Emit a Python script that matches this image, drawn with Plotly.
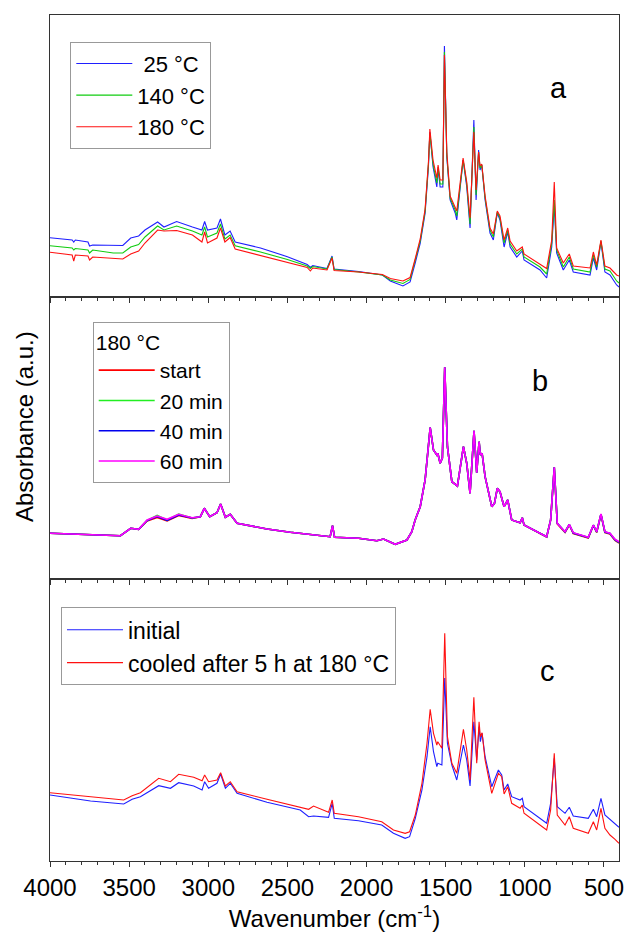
import plotly.graph_objects as go

# ---------------- Panel a : temperature series ----------------
wn_a = [4000, 3900, 3860, 3850, 3840, 3760, 3750, 3730, 3650, 3600,
        3540, 3490, 3440, 3400, 3320, 3280, 3200, 3100, 3040, 3023,
        3005, 2945, 2923, 2895, 2862, 2830, 2670, 2500, 2375, 2355,
        2340, 2250, 2218, 2205, 2050, 1900, 1850, 1770, 1725, 1693,
        1661, 1630, 1609, 1600, 1580, 1556, 1548, 1535, 1518, 1508,
        1493, 1472, 1440, 1430, 1390, 1367, 1346, 1322, 1308, 1292,
        1283, 1272, 1251, 1220, 1199, 1174, 1157, 1131, 1108, 1093,
        1051, 1016, 1005, 904, 862, 830, 814, 799, 757, 719,
        694, 588, 567, 546, 519, 494, 462, 420, 405]
a_25 = [.593, .58, .57, .55, .57, .55, .51, .52, .52, .515,
        .515, .59, .61, .67, .75, .70, .755, .70, .67, .755,
        .67, .69, .78, .62, .66, .55, .49, .403, .325, .295,
        .315, .285, .41, .28, .255, .22, .16, .11, .15, .337,
        .537, .837, 1.303, 1.65, 1.303, 1.10, 1.28, 1.10, 1.10, 2.51,
        1.40, .97, .84, .77, 1.37, 1.103, .69, 1.77, .97, 1.47,
        1.27, 1.32, .97, .64, .57, .84, .77, .50, .65, .50,
        .40, .46, .37, .27, .19, .50, .92, .44, .27, .37,
        .25, .22, .39, .27, .55, .25, .22, .12, .10]
a_140 = [.513, .495, .49, .47, .485, .47, .44, .47, .45, .44,
         .44, .50, .525, .60, .71, .67, .71, .66, .62, .70,
         .60, .64, .73, .58, .62, .513, .45, .375, .31, .285,
         .305, .28, .40, .275, .25, .22, .17, .135, .175, .36,
         .56, .86, 1.33, 1.64, 1.33, 1.14, 1.30, 1.13, 1.13, 2.45,
         1.42, .99, .87, .81, 1.37, 1.13, .73, 1.70, 1.02, 1.45,
         1.29, 1.32, .99, .67, .60, .85, .79, .54, .67, .53,
         .43, .48, .40, .30, .23, .54, .97, .47, .30, .40,
         .28, .25, .42, .30, .56, .28, .26, .16, .14]
a_180 = [.447, .43, .42, .36, .42, .41, .37, .40, .39, .38,
         .38, .43, .46, .54, .67, .66, .665, .62, .55, .65,
         .54, .59, .69, .55, .595, .48, .415, .345, .295, .26,
         .29, .27, .39, .265, .25, .225, .185, .16, .195, .38,
         .58, .88, 1.35, 1.68, 1.37, 1.19, 1.32, 1.17, 1.17, 2.42,
         1.45, 1.01, .89, .86, 1.39, 1.15, .79, 1.65, 1.07, 1.45,
         1.31, 1.33, 1.01, .69, .63, .86, .81, .57, .69, .56,
         .46, .50, .43, .33, .285, .57, 1.15, .49, .34, .43,
         .31, .29, .45, .32, .57, .31, .29, .22, .21]

# ---------------- Panel b : time at 180 °C ----------------
wn_b = [4000, 3555, 3490, 3440, 3386, 3323, 3260, 3187, 3102, 3050,
        3025, 2991, 2945, 2922, 2892, 2861, 2818, 2629, 2482, 2419,
        2337, 2230, 2215, 2202, 2051, 1935, 1893, 1819, 1745, 1714,
        1693, 1661, 1630, 1609, 1598, 1577, 1556, 1550, 1535, 1521,
        1506, 1489, 1461, 1426, 1388, 1367, 1346, 1321, 1304, 1289,
        1281, 1270, 1251, 1209, 1192, 1174, 1157, 1131, 1108, 1083,
        1030, 1016, 1005, 862, 837, 814, 795, 746, 719, 694,
        599, 567, 546, 519, 494, 462, 430, 405]
b_start = [.457, .433, .507, .497, .58, .615, .58, .635, .605, .623,
           .707, .623, .663, .75, .617, .647, .557, .50, .467, .455,
           .445, .423, .533, .417, .407, .383, .40, .347, .39, .473,
           .59, .723, .99, 1.323, 1.513, 1.29, 1.24, 1.257, 1.157, 1.21,
           2.117, 1.323, .973, .93, 1.323, 1.157, .857, 1.483, 1.063, 1.373,
           1.24, 1.257, 1.023, .723, .757, .907, .873, .723, .79, .59,
           .563, .613, .54, .42, .59, 1.117, .55, .465, .54, .455,
           .41, .535, .465, .645, .465, .45, .385, .36]
b_20 = [.457, .433, .507, .497, .585, .635, .59, .65, .61, .623,
        .707, .623, .663, .75, .617, .647, .557, .50, .467, .455,
        .445, .423, .533, .417, .407, .383, .40, .347, .39, .473,
        .59, .723, .99, 1.323, 1.513, 1.29, 1.24, 1.257, 1.157, 1.21,
        2.117, 1.323, .973, .93, 1.323, 1.157, .857, 1.483, 1.063, 1.373,
        1.24, 1.257, 1.023, .723, .757, .907, .873, .723, .79, .59,
        .563, .613, .54, .423, .59, 1.117, .557, .47, .545, .46,
        .415, .538, .47, .648, .47, .455, .39, .365]
b_40 = [.457, .433, .507, .497, .585, .625, .585, .64, .61, .623,
        .707, .623, .663, .75, .617, .647, .557, .50, .467, .455,
        .445, .423, .533, .417, .407, .383, .40, .347, .39, .473,
        .59, .723, .99, 1.323, 1.513, 1.29, 1.24, 1.257, 1.157, 1.21,
        2.117, 1.323, .973, .93, 1.323, 1.157, .857, 1.483, 1.063, 1.373,
        1.24, 1.257, 1.023, .723, .757, .907, .873, .723, .79, .59,
        .563, .613, .54, .423, .59, 1.117, .557, .47, .545, .46,
        .415, .538, .47, .648, .47, .455, .39, .368]
b_60 = [.457, .433, .507, .497, .59, .63, .597, .647, .613, .623,
        .707, .623, .663, .75, .617, .647, .557, .50, .467, .455,
        .445, .423, .533, .417, .407, .383, .40, .347, .39, .473,
        .59, .723, .99, 1.323, 1.513, 1.29, 1.24, 1.257, 1.157, 1.21,
        2.117, 1.323, .973, .93, 1.323, 1.157, .857, 1.483, 1.063, 1.373,
        1.24, 1.257, 1.023, .723, .757, .907, .873, .723, .79, .59,
        .563, .613, .54, .423, .59, 1.117, .557, .473, .547, .463,
        .417, .54, .473, .65, .473, .457, .397, .373]

# ---------------- Panel c : before / after ----------------
wn_c = [4000, 3850, 3744, 3534, 3481, 3429, 3313, 3239, 3187, 3092,
        3039, 3023, 2998, 2945, 2922, 2892, 2861, 2818, 2629, 2419,
        2366, 2335, 2240, 2217, 2204, 2051, 1904, 1830, 1756, 1728,
        1692, 1650, 1618, 1598, 1577, 1556, 1550, 1524, 1506, 1489,
        1461, 1430, 1388, 1367, 1346, 1322, 1304, 1289, 1281, 1270,
        1251, 1209, 1167, 1146, 1131, 1108, 1083, 1030, 1016, 1005,
        862, 837, 814, 795, 746, 719, 694, 599, 567, 546,
        519, 494, 462, 430, 405]
c_initial = [.66, .627, .60, .57, .617, .643, .753, .727, .783, .75,
             .71, .793, .727, .777, .87, .727, .777, .677, .587, .51,
             .443, .45, .437, .577, .427, .403, .36, .277, .227, .243,
             .427, .71, 1.043, 1.343, 1.093, .943, .977, .96, 1.83, 1.177,
             .96, .81, 1.16, 1.01, .75, 1.393, 1.01, 1.343, 1.193, 1.277,
             1.043, .743, .91, .86, .71, .77, .643, .61, .627, .543,
             .377, .577, 1.027, .543, .477, .537, .45, .427, .517, .443,
             .627, .46, .417, .377, .337]
c_cooled = [.683, .66, .637, .61, .653, .683, .827, .793, .867, .837,
            .803, .86, .793, .81, .883, .75, .793, .693, .617, .543,
            .517, .55, .487, .61, .477, .443, .393, .31, .277, .293,
            .46, .777, 1.177, 1.517, 1.277, 1.16, 1.193, 1.127, 2.277, 1.243,
            .977, .877, 1.317, 1.11, .81, 1.637, .977, 1.393, 1.243, 1.283,
            1.01, .677, .877, .843, .67, .743, .577, .527, .56, .477,
            .31, .51, 1.077, .46, .36, .443, .327, .277, .393, .31,
            .527, .327, .26, .217, .177]

xticks = [4000, 3500, 3000, 2500, 2000, 1500, 1000, 500]
legend_a = ["\u00a025 °C", "140 °C", "180 °C"]
legend_b = ["start", "20 min", "40 min", "60 min"]
legend_c = ["initial", "cooled after 5 h at 180 °C"]
panel_labels = ["a", "b", "c"]

FONT = "Liberation Sans, Arial, sans-serif"
W, H = 624, 934
L, R, T, B = 50, 5, 15, 73
pw, ph = W - L - R, H - T - B


def px(xp):
    return (xp - L) / pw


def py(yp):
    return (H - B - yp) / ph


fig = go.Figure()

for name, vals, col in zip(legend_a, [a_25, a_140, a_180], ["#1f1fff", "#10cc10", "#ff1010"]):
    fig.add_trace(go.Scatter(x=wn_a, y=vals, mode="lines", name=name,
                             line=dict(color=col, width=1.1), xaxis="x3", yaxis="y3",
                             legend="legend"))

for name, vals, col in zip(legend_b, [b_start, b_20, b_40, b_60],
                           ["#ff0000", "#22ee22", "#0000ee", "#ff00ff"]):
    fig.add_trace(go.Scatter(x=wn_b, y=vals, mode="lines", name=name,
                             line=dict(color=col, width=1.6), xaxis="x2", yaxis="y2",
                             legend="legend2"))

for name, vals, col in zip(legend_c, [c_initial, c_cooled], ["#1f1fff", "#ff1010"]):
    fig.add_trace(go.Scatter(x=wn_c, y=vals, mode="lines", name=name,
                             line=dict(color=col, width=1.1), xaxis="x", yaxis="y",
                             legend="legend3"))

axis_line = dict(showline=True, linecolor="#333", linewidth=1, mirror=True,
                 showgrid=False, zeroline=False)
xcommon = dict(range=[4000, 405], tickmode="array", tickvals=xticks,
               ticks="outside", ticklen=5, tickwidth=1, tickcolor="#333",
               minor=dict(ticks="outside", dtick=100, tick0=0, ticklen=3, tickcolor="#333"),
               automargin=False, **axis_line)
ycommon = dict(range=[0, 2.82], showticklabels=False, ticks="", automargin=False, **axis_line)

fig.update_layout(
    width=W, height=H, template="none",
    margin=dict(l=L, r=R, t=T, b=B),
    paper_bgcolor="white", plot_bgcolor="white",
    font=dict(family=FONT, color="black", size=23),
    xaxis=dict(domain=[0, 1], anchor="y", showticklabels=True,
               tickfont=dict(size=24, family=FONT, color="black"),
               title=dict(text="Wavenumber (cm<sup>-1</sup>)", standoff=10,
                          font=dict(size=24, family=FONT, color="black")),
               **xcommon),
    xaxis2=dict(domain=[0, 1], anchor="y2", matches="x", showticklabels=False, **xcommon),
    xaxis3=dict(domain=[0, 1], anchor="y3", matches="x", showticklabels=False, **xcommon),
    yaxis=dict(domain=[0, 1 / 3], anchor="x", **ycommon),
    yaxis2=dict(domain=[1 / 3, 2 / 3], anchor="x2", **ycommon),
    yaxis3=dict(domain=[2 / 3, 1], anchor="x3", **ycommon),
    showlegend=True,
)

leg_common = dict(xanchor="left", yanchor="top", bgcolor="white", bordercolor="#999",
                  borderwidth=1, itemwidth=56, traceorder="normal", tracegroupgap=0)
fig.update_layout(
    legend=dict(x=px(70.3), y=py(41.7), font=dict(size=22, family=FONT, color="black"),
                **leg_common),
    legend2=dict(x=px(92.7), y=py(321.7),
                 font=dict(size=21, family=FONT, color="black"),
                 title=dict(text="180 °C", font=dict(size=21, family=FONT, color="black")),
                 **leg_common),
    legend3=dict(x=px(61), y=py(607.3), font=dict(size=23, family=FONT, color="black"),
                 **leg_common),
)

for lab, (xp, yp) in zip(panel_labels, [(558, 87.6), (540, 381), (547, 671)]):
    fig.add_annotation(text=lab, x=px(xp), y=py(yp), xref="paper", yref="paper",
                       showarrow=False, xanchor="center", yanchor="middle",
                       font=dict(size=29, family=FONT, color="black"))

fig.add_annotation(text="Absorbance (a.u.)", textangle=-90, x=px(24), y=py(427),
                   xref="paper", yref="paper", showarrow=False,
                   xanchor="center", yanchor="middle",
                   font=dict(size=24, family=FONT, color="black"))

fig.write_html("out.html")
